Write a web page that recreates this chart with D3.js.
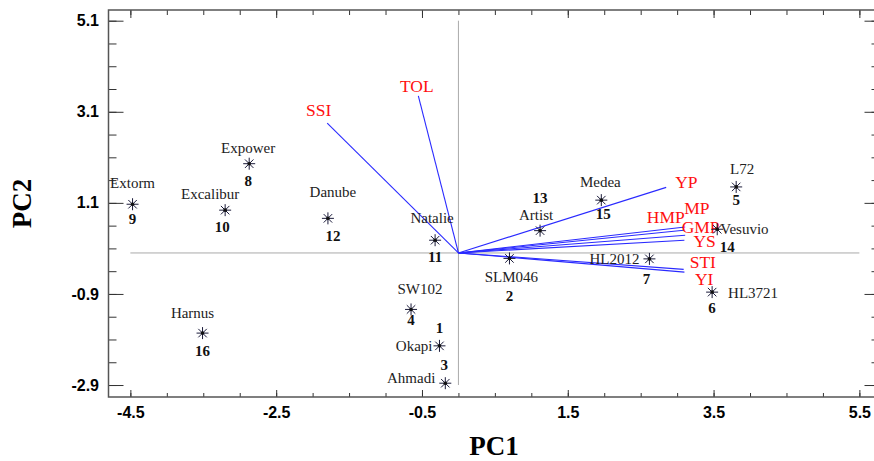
<!DOCTYPE html>
<html>
<head>
<meta charset="utf-8">
<script src="https://cdn.jsdelivr.net/npm/d3@7"></script>
<style>
  body { margin: 0; background: #fff; }
  svg { display: block; }
  .tick line { stroke: #333; }
</style>
</head>
<body>
<div class="biplot"></div>
<script>

// genotypes (scores)
var ids   = [1, 2, 3, 4, 5, 6, 7, 8, 9, 10, 11, 12, 13, 14, 15, 16];
var names = ["Okapi", "SLM046", "Ahmadi", "SW102", "L72", "HL3721", "HL2012", "Expower",
             "Extorm", "Excalibur", "Natalie", "Danube", "Artist", "Vesuvio", "Medea", "Harnus"];
var pc1   = [-0.26, 0.70, -0.18, -0.65, 3.81, 3.48, 2.62, -2.87, -4.47, -3.20, -0.32, -1.79, 1.12, 3.55, 1.96, -3.51];
var pc2   = [-2.04, -0.12, -2.86, -1.24, 1.45, -0.86, -0.13, 1.96, 1.07, 0.94, 0.28, 0.76, 0.49, 0.52, 1.16, -1.76];

// traits (loadings)
var traits = ["SSI", "TOL", "YP", "MP", "HMP", "GMP", "YS", "STI", "YI"];
var load1  = [-1.80, -0.55, 2.85, 3.11, 3.09, 3.11, 3.10, 3.09, 3.10];
var load2  = [2.85, 3.45, 1.44, 0.57, 0.50, 0.39, 0.28, -0.36, -0.42];

// axis ticks
var xMajor = [-4.5, -2.5, -0.5, 1.5, 3.5, 5.5];
var yMajor = [-2.9, -0.9, 1.1, 3.1, 5.1];
var xDomain = [-4.8, 5.776];
var yDomain = [-3.163, 5.335];

// label placement (layout only): [anchor, dx, dy] for name, [dx, dy] for number
var namePos = {
  1: ["end", -7, 5], 2: ["middle", 2, 24], 3: ["end", -10, 0], 4: ["middle", 9, -15],
  5: ["middle", 6, -13], 6: ["start", 16, 6], 7: ["end", -10, 5], 8: ["middle", -1, -11],
  9: ["middle", 0, -16], 10: ["middle", -15, -11], 11: ["middle", -3, -17], 12: ["middle", 5, -21],
  13: ["middle", -4, -11], 14: ["start", 3, 5], 15: ["middle", -1, -13], 16: ["middle", -10, -15]
};
var numPos = {
  1: [0, -13], 2: [0, 43], 3: [-1, -13], 4: [0, 16], 5: [0, 18], 6: [0, 21], 7: [-3, 25],
  8: [-1, 22], 9: [0, 20], 10: [-3, 22], 11: [0, 22], 12: [5, 23], 13: [0, -28], 14: [10, 23],
  15: [2, 19], 16: [0, 23]
};
var traitPos = {
  SSI: ["middle", -8.5, -7], TOL: ["middle", -1.6, -4], YP: ["start", 9, 1], MP: ["start", -1, -13],
  HMP: ["end", 1, -7], GMP: ["start", -3.5, -2.4], YS: ["start", 9, 7], STI: ["start", 6, -1], YI: ["start", 10.5, 13]
};

var w = 874, h = 461;
var margin = {left: 108.5, right: 879.5, top: 10, bottom: 397};

var svg = d3.select("div.biplot").append("svg")
  .attr("width", w).attr("height", h);

var x = d3.scaleLinear().domain(xDomain).range([margin.left, margin.right]);
var y = d3.scaleLinear().domain(yDomain).range([margin.bottom, margin.top]);

var xMinor = d3.range(-4.5, 5.51, 0.5).map(function(v){ return +v.toFixed(1); });
var yMinor = d3.range(-2.9, 5.11, 0.5).map(function(v){ return +v.toFixed(1); });
var fmt = function(d){ return d.toFixed(1); };

// zero lines
svg.append("line")
  .attr("x1", x(xMajor[0])).attr("x2", x(xMajor[xMajor.length-1]))
  .attr("y1", y(0)).attr("y2", y(0))
  .attr("stroke", "#aaa").attr("stroke-width", 1);
svg.append("line")
  .attr("x1", x(0)).attr("x2", x(0))
  .attr("y1", y(yMajor[0])).attr("y2", y(yMajor[yMajor.length-1]))
  .attr("stroke", "#aaa").attr("stroke-width", 1);

// axes, ticks pointing inward
function addAxis(axis, tx, ty) {
  var g = svg.append("g").attr("transform", "translate(" + tx + "," + ty + ")").call(axis);
  g.select(".domain").remove();
  g.attr("font-family", "'Liberation Sans', Arial, sans-serif")
   .attr("font-weight", "bold").attr("font-size", 16);
  g.selectAll(".tick text").attr("fill", "#000");
  return g;
}
addAxis(d3.axisLeft(y).tickValues(yMinor).tickSizeInner(-8).tickSizeOuter(0).tickFormat(""), margin.left, 0);
addAxis(d3.axisLeft(y).tickValues(yMajor).tickSizeInner(-15).tickSizeOuter(0).tickPadding(9.5).tickFormat(fmt), margin.left, 0);
addAxis(d3.axisRight(y).tickValues(yMinor).tickSizeInner(-8).tickSizeOuter(0).tickFormat(""), margin.right, 0);
addAxis(d3.axisRight(y).tickValues(yMajor).tickSizeInner(-15).tickSizeOuter(0).tickFormat(""), margin.right, 0);
addAxis(d3.axisBottom(x).tickValues(xMinor).tickSizeInner(-4).tickSizeOuter(0).tickFormat(""), 0, margin.bottom);
addAxis(d3.axisBottom(x).tickValues(xMajor).tickSizeInner(-7).tickSizeOuter(0).tickPadding(9.5).tickFormat(fmt), 0, margin.bottom);
addAxis(d3.axisTop(x).tickValues(xMinor).tickSizeInner(-5).tickSizeOuter(0).tickFormat(""), 0, margin.top);
addAxis(d3.axisTop(x).tickValues(xMajor).tickSizeInner(-8).tickSizeOuter(0).tickFormat(""), 0, margin.top);

svg.append("rect")
  .attr("x", margin.left).attr("y", margin.top)
  .attr("width", margin.right - margin.left).attr("height", margin.bottom - margin.top)
  .attr("fill", "none").attr("stroke", "#555").attr("stroke-width", 1.5);

// axis titles
svg.append("text")
  .attr("x", (margin.left + margin.right) / 2).attr("y", 455)
  .attr("text-anchor", "middle")
  .style("font-family", "'Liberation Serif', 'Times New Roman', serif")
  .style("font-weight", "bold").style("font-size", "27px")
  .text("PC1");
svg.append("text")
  .attr("transform", "translate(31," + (margin.top + margin.bottom) / 2 + ") rotate(-90)")
  .attr("text-anchor", "middle")
  .style("font-family", "'Liberation Serif', 'Times New Roman', serif")
  .style("font-weight", "bold").style("font-size", "27px")
  .text("PC2");

// trait vectors
var vec = traits.map(function(t, i){ return {name: t, x: load1[i], y: load2[i]}; });
var vg = svg.append("g");
vg.selectAll("line.vec")
  .data(vec)
  .enter().append("line")
    .attr("class", "vec")
    .attr("x1", x(0)).attr("y1", y(0))
    .attr("x2", function(d){ return x(d.x); })
    .attr("y2", function(d){ return y(d.y); })
    .attr("stroke", "#2a2aff").attr("stroke-width", 1.1);
vg.selectAll("text.vec")
  .data(vec)
  .enter().append("text")
    .attr("class", "vec")
    .attr("x", function(d){ return x(d.x) + traitPos[d.name][1]; })
    .attr("y", function(d){ return y(d.y) + traitPos[d.name][2]; })
    .attr("text-anchor", function(d){ return traitPos[d.name][0]; })
    .style("font-family", "'Liberation Serif', 'Times New Roman', serif")
    .style("font-size", "17.5px")
    .attr("fill", "#ff1010")
    .text(function(d){ return d.name; });

// genotype points
var pts = ids.map(function(id, i){ return {id: id, name: names[i], x: pc1[i], y: pc2[i]}; });

var star = {
  draw: function(ctx, size) {
    var r = Math.sqrt(size) / 2, d = r * 0.7071;
    ctx.moveTo(-r, 0); ctx.lineTo(r, 0);
    ctx.moveTo(0, -r); ctx.lineTo(0, r);
    ctx.moveTo(-d, -d); ctx.lineTo(d, d);
    ctx.moveTo(-d, d); ctx.lineTo(d, -d);
  }
};

var pg = svg.append("g");
pg.selectAll("path.pt")
  .data(pts)
  .enter().append("path")
    .attr("class", "pt")
    .attr("transform", function(d){ return "translate(" + x(d.x) + "," + y(d.y) + ")"; })
    .attr("d", d3.symbol().type(star).size(144))
    .attr("fill", "none").attr("stroke", "#1a1a3a").attr("stroke-width", 1);
pg.selectAll("circle.pt")
  .data(pts)
  .enter().append("circle")
    .attr("class", "pt")
    .attr("cx", function(d){ return x(d.x); })
    .attr("cy", function(d){ return y(d.y); })
    .attr("r", 1.8).attr("fill", "#111");

pg.selectAll("text.name")
  .data(pts)
  .enter().append("text")
    .attr("class", "name")
    .attr("x", function(d){ return x(d.x) + namePos[d.id][1]; })
    .attr("y", function(d){ return y(d.y) + namePos[d.id][2]; })
    .attr("text-anchor", function(d){ return namePos[d.id][0]; })
    .style("font-family", "'Liberation Serif', 'Times New Roman', serif")
    .style("font-size", "15px")
    .attr("fill", "#222")
    .text(function(d){ return d.name; });

pg.selectAll("text.num")
  .data(pts)
  .enter().append("text")
    .attr("class", "num")
    .attr("x", function(d){ return x(d.x) + numPos[d.id][0]; })
    .attr("y", function(d){ return y(d.y) + numPos[d.id][1]; })
    .attr("text-anchor", "middle")
    .style("font-family", "'Liberation Serif', 'Times New Roman', serif")
    .style("font-size", "15px").style("font-weight", "bold")
    .attr("fill", "#111")
    .text(function(d){ return d.id; });

</script>
</body>
</html>
